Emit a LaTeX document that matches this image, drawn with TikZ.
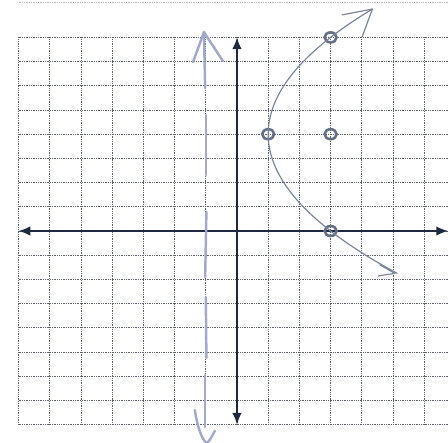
\documentclass[tikz,border=0pt]{standalone}
\usetikzlibrary{arrows.meta,shapes.geometric}
\definecolor{navy}{RGB}{30,42,66}
\definecolor{pencil}{RGB}{120,132,156}
\definecolor{gridgray}{RGB}{90,94,106}
\tikzset{
  gridline/.style={gridgray, line width=0.6pt, dash pattern=on 0.6pt off 0.9pt},
  axis/.style={navy, line width=1.1pt, -{Latex[length=10pt,width=8pt]}},
  pencilline/.style={pencil, line width=1pt, line cap=round, line join=round},
  asym/.style={pencil!85!blue!60!white, line width=2.1pt, line cap=round, line join=round},
  ptring/.style={draw=pencil!85!black, ellipse, line width=2.2pt, minimum width=0.36cm, minimum height=0.3cm, inner sep=0pt}
}
\begin{document}
\begin{tikzpicture}[x=0.936cm, y=0.726cm]
\useasboundingbox (-7.596,-8.760) rectangle (6.763,9.545);
% grid paper
\draw[gridline, gridgray!45] (-7,9.46) -- (6.763,9.46);
\foreach \i in {-7,...,6}
  \draw[gridline] (\i,-8) -- (\i,8);
\foreach \j in {-8,...,8}
  \draw[gridline] (-7,\j) -- (6.763,\j);
% axes
\coordinate (xl) at (-7,0);
\coordinate (xr) at (6.763,0);
\coordinate (yb) at (0,-8);
\coordinate (yt) at (0,8);
\coordinate (o) at (0,0);
\draw[axis] (o) -- (xr);
\draw[axis] (o) -- (xl);
\draw[axis] (o) -- (yt);
\draw[axis] (o) -- (yb);
% asymptote x = -1
\draw[asym] (-1.06,8.22) -- (-1.02,5.91);
\draw[asym] (-1.41,6.98) -- (-1.06,8.22) -- (-0.45,7.02);
\draw[asym] (-1,4.79) -- (-1,2.31);
\draw[asym] (-0.98,0.79) -- (-1.02,-1.90);
\draw[asym] (-1,-2.73) -- (-0.98,-5.25);
\draw[asym] (-1.02,-5.95) -- (-1.02,-8.10);
\draw[asym] (-1.35,-7.40) .. controls (-1.25,-8.3) and (-1.05,-8.75) .. (-0.96,-8.76)
  .. controls (-0.85,-8.6) .. (-0.71,-8.26);
% points
\node[ptring] (a) at (3,8) {};
\node[ptring] (v) at (1,4) {};
\node[ptring] (c) at (3,4) {};
\node[ptring] (b) at (3,0) {};
% curve
\draw[pencilline] plot[domain=-1.75:9.17, samples=80, smooth] ({1+(\x-4)^2/8},\x);
\coordinate (tt) at (4.34,9.17);
\coordinate (bt) at (5.06,-1.75);
\draw[pencilline] (3.37,8.93) -- (tt) -- (4.01,8.02);
\draw[pencilline] (4.58,-1.40) -- (bt) -- (4.52,-1.86);
\end{tikzpicture}
\end{document}
